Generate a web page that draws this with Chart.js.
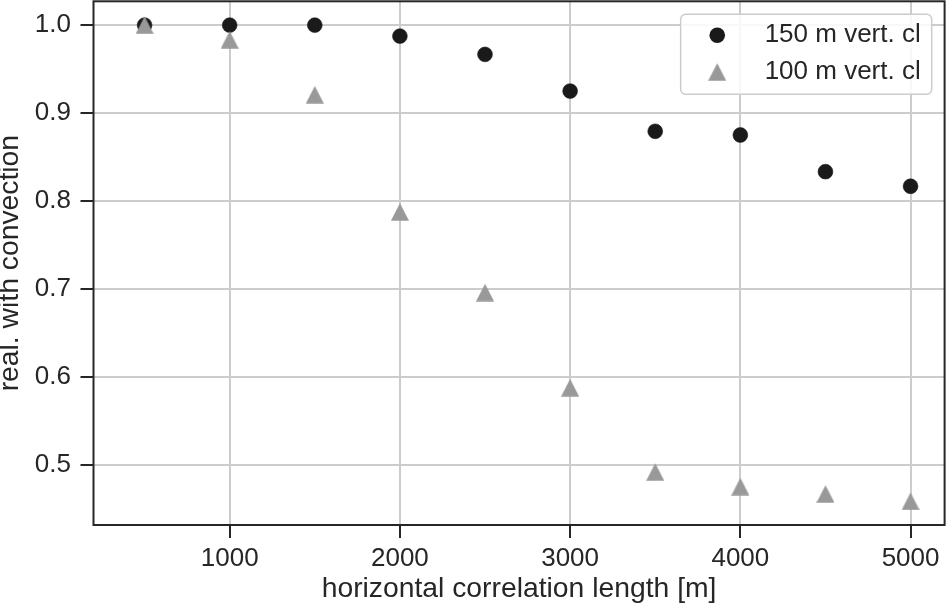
<!DOCTYPE html>
<html><head><meta charset="utf-8">
<script src="https://cdn.jsdelivr.net/npm/chart.js@4.4.1/dist/chart.umd.min.js"></script>
<style>html,body{margin:0;padding:0;background:#fff;} #wrap{width:948px;height:607px;position:relative}</style>
</head><body><div id="wrap"><canvas id="c"></canvas></div>
<script>
const xValues = [500, 1000, 1500, 2000, 2500, 3000, 3500, 4000, 4500, 5000];
const series150 = [1.0, 1.0, 1.0, 0.9875, 0.9667, 0.925, 0.8792, 0.875, 0.8333, 0.8167];
const series100 = [1.0, 0.9833, 0.9208, 0.7875, 0.6958, 0.5875, 0.4917, 0.475, 0.4667, 0.4583];
const seriesLabels = ['150 m vert. cl', '100 m vert. cl'];
const xTickValues = [1000, 2000, 3000, 4000, 5000];
const yTickValues = [0.5, 0.6, 0.7, 0.8, 0.9, 1.0];
const xTitle = 'horizontal correlation length [m]';
const yTitle = 'real. with convection';

const FONT = "'Liberation Sans', Arial, Helvetica, sans-serif";
const FS = 26;
const FT = 28.3;
const TXT = '#262626';
const C150 = '#1a1a1a';
const C100 = '#999999';

function triangleImage(w, h, color) {
  const c = document.createElement('canvas');
  c.width = w; c.height = h;
  const g = c.getContext('2d');
  g.fillStyle = color;
  g.beginPath();
  g.moveTo(w / 2, 0.3);
  g.lineTo(w, h - 0.3);
  g.lineTo(0, h - 0.3);
  g.closePath();
  g.fill();
  return c;
}
const triImg = triangleImage(18, 18, C100);

const spinesPlugin = {
  id: 'spines',
  afterDatasetsDraw(chart) {
    const a = chart.chartArea, ctx = chart.ctx;
    ctx.save();
    ctx.strokeStyle = TXT;
    ctx.lineWidth = 2;
    ctx.strokeRect(a.left, a.top, a.right - a.left, a.bottom - a.top);
    ctx.restore();
  }
};

const legendPlugin = {
  id: 'mplLegend',
  afterDraw(chart) {
    const a = chart.chartArea, ctx = chart.ctx;
    ctx.save();
    ctx.font = FS + 'px ' + FONT;
    const tw = Math.max(...chart.data.datasets.map(d => ctx.measureText(d.label).width));
    const bw = 84 + tw + 11;
    const bh = 80;
    const bx = a.right - 12.9 - bw;
    const by = a.top + 13;
    ctx.beginPath();
    ctx.roundRect(bx, by, bw, bh, 5);
    ctx.fillStyle = 'rgba(255,255,255,0.85)';
    ctx.fill();
    ctx.strokeStyle = '#cccccc';
    ctx.lineWidth = 1.5;
    ctx.stroke();
    chart.data.datasets.forEach((d, i) => {
      const cy = by + 21 + i * 36.6;
      const mx = bx + 36.6;
      if (d.pointStyle === 'circle') {
        ctx.beginPath();
        ctx.arc(mx, cy, 7.8, 0, Math.PI * 2);
        ctx.fillStyle = d.backgroundColor;
        ctx.fill();
      } else {
        ctx.drawImage(d.pointStyle, mx - 9, cy - 9);
      }
      ctx.fillStyle = TXT;
      ctx.textBaseline = 'alphabetic';
      ctx.fillText(d.label, bx + 84, cy + 7);
    });
    ctx.restore();
  }
};

new Chart(document.getElementById('c'), {
  type: 'scatter',
  data: {
    datasets: [
      {
        label: seriesLabels[0],
        data: xValues.map((x, i) => ({ x: x, y: series150[i] })),
        pointStyle: 'circle',
        backgroundColor: C150,
        borderColor: C150,
        pointRadius: 7.4,
        pointBorderWidth: 0.6,
        order: 1
      },
      {
        label: seriesLabels[1],
        data: xValues.map((x, i) => ({ x: x, y: series100[i] })),
        pointStyle: triImg,
        backgroundColor: C100,
        borderColor: C100,
        pointRadius: 9,
        order: 0
      }
    ]
  },
  options: {
    responsive: true,
    maintainAspectRatio: false,
    animation: false,
    layout: { autoPadding: false, padding: { top: 1.3, right: 3.4, bottom: 0, left: 0 } },
    plugins: { legend: { display: false }, tooltip: { enabled: false } },
    scales: {
      x: {
        type: 'linear', min: 200, max: 5200,
        afterBuildTicks: s => { s.ticks = xTickValues.map(v => ({ value: v })); },
        afterFit: s => { s.height = 82; s.paddingLeft = 0; s.paddingRight = 0; s.paddingTop = 0; s.paddingBottom = 0; },
        grid: { color: '#cccccc', lineWidth: 2, tickColor: TXT, tickWidth: 2, tickLength: 13 },
        border: { display: false },
        ticks: { font: { family: FONT, size: FS }, color: TXT, padding: 5.5, maxRotation: 0, autoSkip: false, callback: v => String(v) },
        title: { display: true, text: xTitle, font: { family: FONT, size: FT }, color: TXT, padding: { top: 0, bottom: 0.5 } }
      },
      y: {
        type: 'linear', min: 0.4313, max: 1.0271,
        afterBuildTicks: s => { s.ticks = yTickValues.map(v => ({ value: v })); },
        afterFit: s => { s.width = 93.5; s.paddingLeft = 0; s.paddingRight = 0; s.paddingTop = 0; s.paddingBottom = 0; },
        grid: { color: '#cccccc', lineWidth: 2, tickColor: TXT, tickWidth: 2, tickLength: 13 },
        border: { display: false },
        ticks: { font: { family: FONT, size: FS }, color: TXT, padding: 9.5, autoSkip: false, callback: v => v.toFixed(1) },
        title: { display: true, text: yTitle, font: { family: FONT, size: FT }, color: TXT, padding: { top: -6.3, bottom: 0 } }
      }
    }
  },
  plugins: [spinesPlugin, legendPlugin]
});
</script>
</body></html>
